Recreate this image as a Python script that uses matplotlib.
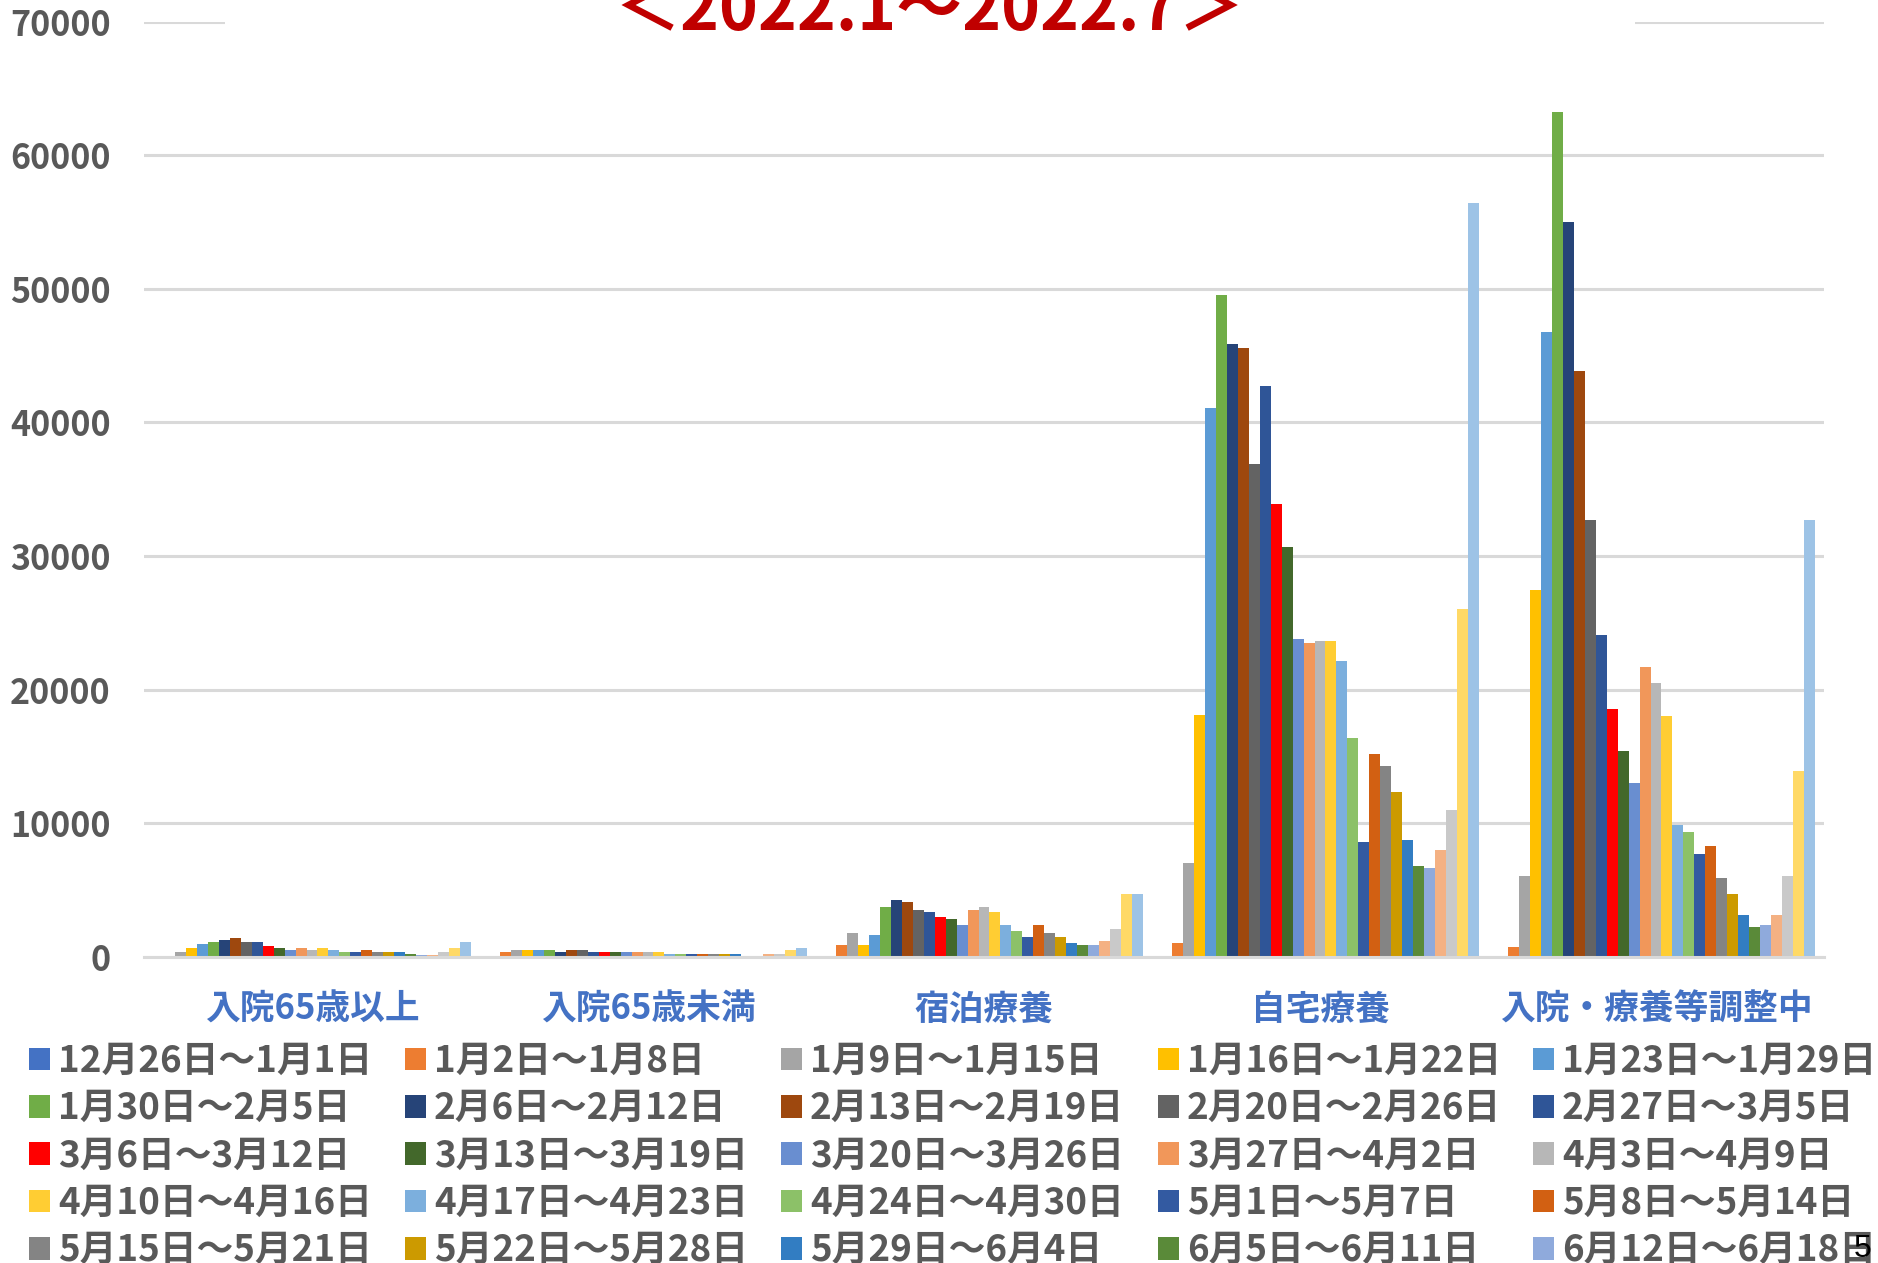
import numpy as np
import matplotlib
matplotlib.use('Agg')
import matplotlib.pyplot as plt
from matplotlib.patches import Rectangle

plt.rcParams['font.family'] = ['Noto Sans CJK JP', 'DejaVu Sans']

categories = ['入院65歳以上', '入院65歳未満', '宿泊療養', '自宅療養', '入院・療養等調整中']

periods = ['12月26日～1月1日', '1月2日～1月8日', '1月9日～1月15日', '1月16日～1月22日', '1月23日～1月29日',
           '1月30日～2月5日', '2月6日～2月12日', '2月13日～2月19日', '2月20日～2月26日', '2月27日～3月5日',
           '3月6日～3月12日', '3月13日～3月19日', '3月20日～3月26日', '3月27日～4月2日', '4月3日～4月9日',
           '4月10日～4月16日', '4月17日～4月23日', '4月24日～4月30日', '5月1日～5月7日', '5月8日～5月14日',
           '5月15日～5月21日', '5月22日～5月28日', '5月29日～6月4日', '6月5日～6月11日', '6月12日～6月18日',
           '6月19日～6月25日', '6月26日～7月2日', '7月3日～7月9日', '7月10日～7月16日']

colors = ['#4472C4', '#ED7D31', '#A5A5A5', '#FFC000', '#5B9BD5', '#70AD47', '#264478', '#9E480E',
          '#636363', '#2F5597', '#FF0000', '#43682B', '#698ED0', '#F1975A', '#B7B7B7', '#FFCD33',
          '#7CAFDD', '#8CC168', '#335AA1', '#D26012', '#848484', '#CC9A00', '#327DC2', '#5A8A39',
          '#8FAADC', '#F4B183', '#C9C9C9', '#FFD966', '#9DC3E6']

# values per category, one per week (same order as periods)
hosp_65_over = [0, 100, 350, 670, 970, 1120, 1270, 1420, 1120, 1120, 820, 650, 500, 650, 500,
                650, 500, 350, 350, 500, 350, 350, 350, 200, 150, 150, 350, 650, 1100]
hosp_65_under = [0, 400, 500, 500, 500, 500, 350, 550, 500, 350, 350, 350, 350, 400, 400,
                 350, 220, 220, 220, 220, 200, 200, 200, 80, 80, 200, 200, 500, 650]
hotel = [0, 920, 1820, 870, 1670, 3760, 4230, 4080, 3480, 3330, 3030, 2860, 2410, 3480, 3760,
         3330, 2410, 1970, 1520, 2410, 1820, 1520, 1070, 900, 900, 1220, 2110, 4680, 4680]
home = [0, 1060, 7070, 18090, 41060, 49540, 45900, 45580, 36890, 42760, 33890, 30710, 23820, 23460, 23640,
        23640, 22120, 16400, 8620, 15190, 14310, 12370, 8760, 6780, 6640, 7990, 11020, 26040, 56400]
adjusting = [0, 770, 6060, 27440, 46800, 63200, 55010, 43870, 32730, 24090, 18580, 15400, 12990, 21720, 20520,
             18060, 9890, 9330, 7700, 8300, 5890, 4690, 3140, 2280, 2410, 3140, 6060, 13890, 32730]

yticks = [0, 10000, 20000, 30000, 40000, 50000, 60000, 70000]

W, H = 1878, 1263
fig = plt.figure(figsize=(W / 100, H / 100), dpi=100)
ax = fig.add_axes([144 / W, 1 - 957 / H, 1680 / W, (957 - 21.5) / H])

data = np.array([hosp_65_over, hosp_65_under, hotel, home, adjusting])
n = len(periods)
width = 0.0327
x = np.arange(len(categories))
bars = []
for i in range(n):
    b = ax.bar(x + (i - (n - 1) / 2) * width, data[:, i], width, color=colors[i],
               linewidth=0, label=periods[i], zorder=1)
    bars.append(b)

ax.set_xlim(-0.5, len(categories) - 0.5)
ax.set_ylim(0, 70000)
ax.set_yticks(yticks)
ax.set_yticklabels([str(v) for v in yticks])
ax.set_xticks(x)
ax.set_xticklabels(categories)
ax.grid(axis='y', color='#D9D9D9', linewidth=2.2)
ax.set_axisbelow(True)
for s in ['left', 'right', 'top']:
    ax.spines[s].set_visible(False)
ax.spines['bottom'].set_color('#D9D9D9')
ax.spines['bottom'].set_linewidth(2.2)
ax.tick_params(axis='y', length=0, pad=24, labelsize=24.5, labelcolor='#595959')
ax.tick_params(axis='x', length=0, pad=25, labelsize=25, labelcolor='#4472C4')
for t in ax.get_yticklabels() + ax.get_xticklabels():
    t.set_fontweight('bold')

# title box hides the top gridline
ax.add_patch(Rectangle((0.048, 0.97), 0.8395, 0.06, transform=ax.transAxes,
                       facecolor='white', edgecolor='none', zorder=2, clip_on=False))
fig.text(929 / W, 1 - 30 / H, '＜2022.1～2022.7＞', ha='center', va='baseline',
         color='#C00000', fontsize=47.5, fontweight='bold')

# legend: 5 columns, filled row by row
col_x = [29, 405, 781, 1158, 1533]
for c in range(5):
    idx = [r * 5 + c for r in range(5)]
    leg = fig.legend([bars[i] for i in idx], [periods[i] for i in idx],
                     loc='upper left', bbox_to_anchor=(col_x[c] / W, 1 - 1043 / H),
                     frameon=False, borderpad=0, borderaxespad=0,
                     handlelength=0.57, handleheight=0.57, handletextpad=0.22,
                     labelspacing=0.28, prop={'size': 26.5, 'weight': 'bold'})
    for t in leg.get_texts():
        t.set_color('#595959')

# page number sits on top of the legend
fig.text(1863 / W, 1 - 1257 / H, '5', ha='center', va='baseline', fontsize=23,
         family='Liberation Sans', color='black', zorder=20)

fig.savefig('out.png', dpi=100)
